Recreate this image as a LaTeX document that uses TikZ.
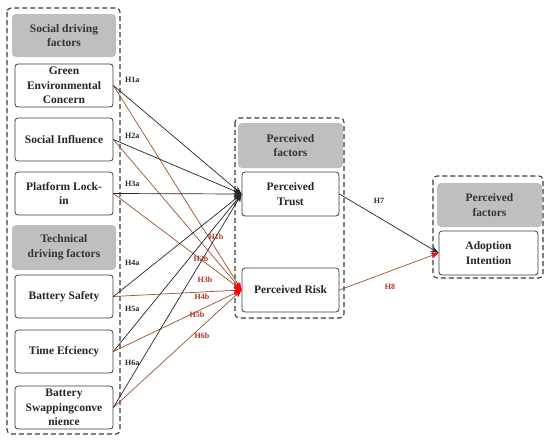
\documentclass[tikz,border=0pt]{standalone}
\usepackage{fontspec}
\setmainfont{Liberation Serif}
\usetikzlibrary{arrows.meta}
\definecolor{headgray}{RGB}{191,191,191}
\definecolor{boxline}{RGB}{60,60,60}
\definecolor{riskline}{RGB}{158,80,42}
\definecolor{risktext}{RGB}{176,52,30}
\tikzset{
  group/.style={draw=boxline, line width=1.1pt, dash pattern=on 5pt off 3pt, rounded corners=4pt},
  header/.style={fill=headgray, rounded corners=4pt, align=center, font=\fontsize{11.5}{14.5}\selectfont\bfseries, text=black!80},
  factor/.style={draw=boxline, fill=white, line width=0.8pt, rounded corners=3pt, align=center, inner sep=0pt, font=\fontsize{11.5}{14.5}\selectfont\bfseries, text=black!85},
  trustpath/.style={draw=black!85, line width=0.7pt, -{Stealth[length=8pt,width=6pt]}},
  riskpath/.style={draw=riskline, line width=0.7pt, -{Stealth[length=8pt,width=6pt,color=red,fill=red]}},
  hlabel/.style={font=\fontsize{8}{9}\selectfont\bfseries, text=black!85, inner sep=1pt},
  rlabel/.style={font=\fontsize{8}{9}\selectfont\bfseries, text=risktext, inner sep=1pt}
}
\begin{document}
\begin{tikzpicture}[x=1pt, y=-1pt]
    \useasboundingbox (0,0) rectangle (550,442);
    % left group: driving factors
    \draw[group] (7,8) rectangle (120,434);
    \node[header, minimum width=104pt, minimum height=43pt] (social) at (64,35.5) {Social driving\\factors};
    \node[factor, minimum width=98pt, minimum height=43pt] (gec) at (64,85.5) {Green\\Environmental\\Concern};
    \node[factor, minimum width=98pt, minimum height=43pt] (si) at (64,139.5) {Social Influence};
    \node[factor, minimum width=98pt, minimum height=43pt] (pl) at (64,193.5) {Platform Lock-\\in};
    \node[header, minimum width=104pt, minimum height=45pt] (tech) at (64,247.5) {Technical\\driving factors};
    \node[factor, minimum width=98pt, minimum height=43pt] (bs) at (64,296.5) {Battery Safety};
    \node[factor, minimum width=98pt, minimum height=43pt] (te) at (64,351.5) {Time Efciency};
    \node[factor, minimum width=98pt, minimum height=43pt] (bsc) at (64,407.5) {Battery\\Swappingconve\\nience};
    % middle group: perceived factors
    \draw[group] (235,118) rectangle (344,318);
    \node[header, minimum width=105pt, minimum height=45pt] (perc) at (290.5,145.5) {Perceived\\factors};
    \node[factor, minimum width=97pt, minimum height=44pt] (pt) at (290.5,194) {Perceived\\Trust};
    \node[factor, minimum width=97pt, minimum height=44pt] (pr) at (290.5,290) {Perceived Risk};
    % right group: outcome
    \draw[group] (433,176) rectangle (543,278);
    \node[header, minimum width=105pt, minimum height=44pt] (outc) at (489.5,205) {Perceived\\factors};
    \node[factor, minimum width=99pt, minimum height=44pt] (ai) at (488.5,253) {Adoption\\Intention};
    % paths to perceived risk
    \foreach \src in {gec,si,pl,bs,te,bsc}
        \draw[riskpath] (\src.east) -- (pr.west);
    % paths to perceived trust
    \foreach \src in {gec,si,pl,bs,te,bsc}
        \draw[trustpath] (\src.east) -- (pt.west);
    % outcome paths
    \draw[trustpath] (pt.east) -- (ai.west);
    \draw[riskpath] (pr.east) -- (ai.west);
    % hypothesis labels
    \node[hlabel, anchor=west] (h1a) at (124,80) {H1a};
    \node[hlabel, anchor=west] (h2a) at (124,136) {H2a};
    \node[hlabel, anchor=west] (h3a) at (124,184) {H3a};
    \node[hlabel, anchor=west] (h4a) at (124,263) {H4a};
    \node[hlabel, anchor=west] (h5a) at (124,309) {H5a};
    \node[hlabel, anchor=west] (h6a) at (124,363) {H6a};
    \node[rlabel] (h1b) at (216,237) {H1b};
    \node[rlabel] (h2b) at (201,259) {H2b};
    \node[rlabel] (h3b) at (205,280) {H3b};
    \node[rlabel] (h4b) at (202,297) {H4b};
    \node[rlabel] (h5b) at (197,315) {H5b};
    \node[rlabel] (h6b) at (202,336) {H6b};
    \node[hlabel] (h7) at (379,201) {H7};
    \node[rlabel] (h8) at (390,287) {H8};
\end{tikzpicture}
\end{document}
